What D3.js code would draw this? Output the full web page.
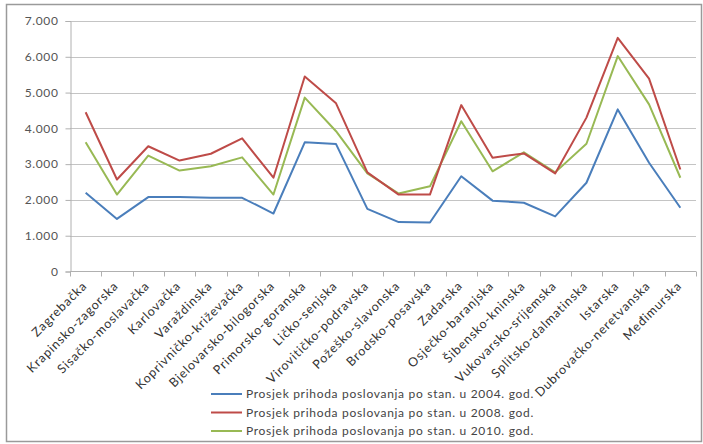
<!DOCTYPE html>
<html>
<head>
<meta charset="utf-8">
<script src="https://cdn.jsdelivr.net/npm/d3@7"></script>
<style>
  html, body { margin: 0; padding: 0; background: #fff; }
  svg { display: block; }
  text { font-family: Lato, "Open Sans", sans-serif; }
</style>
</head>
<body>
<svg id="chart" width="703" height="444"></svg>
<script>
// Counties of Croatia
const counties = [
  "Zagrebačka", "Krapinsko-zagorska", "Sisačko-moslavačka", "Karlovačka",
  "Varaždinska", "Koprivničko-križevačka", "Bjelovarsko-bilogorska",
  "Primorsko-goranska", "Ličko-senjska", "Virovitičko-podravska",
  "Požeško-slavonska", "Brodsko-posavska", "Zadarska", "Osječko-baranjska",
  "Šibensko-kninska", "Vukovarsko-srijemska", "Splitsko-dalmatinska",
  "Istarska", "Dubrovačko-neretvanska", "Međimurska"
];

// Average business revenue per inhabitant
const values2004 = [2200, 1470, 2080, 2080, 2060, 2060, 1620, 3610, 3560, 1750,
                    1380, 1370, 2660, 1980, 1920, 1540, 2480, 4530, 3040, 1780];
const values2008 = [4450, 2570, 3500, 3100, 3290, 3720, 2620, 5450, 4700, 2770,
                    2150, 2150, 4650, 3180, 3300, 2740, 4300, 6530, 5390, 2850];
const values2010 = [3610, 2150, 3240, 2820, 2940, 3190, 2150, 4860, 3920, 2740,
                    2180, 2380, 4200, 2800, 3330, 2770, 3570, 6020, 4670, 2620];

const seriesNames = [
  "Prosjek prihoda poslovanja po stan. u 2004. god.",
  "Prosjek prihoda poslovanja po stan. u 2008. god.",
  "Prosjek prihoda poslovanja po stan. u 2010. god."
];
const seriesColors = ["#4a7ebb", "#be4b48", "#98b954"];
const yTicks = [0, 1000, 2000, 3000, 4000, 5000, 6000, 7000];

const series = [values2004, values2008, values2010].map((vals, i) => ({
  name: seriesNames[i], color: seriesColors[i], values: vals
}));

const svg = d3.select("#chart");

// Outer chart frame
svg.append("rect")
  .attr("x", 6.5).attr("y", 4.5)
  .attr("width", 695).attr("height", 437)
  .attr("fill", "#fff").attr("stroke", "#9a9a9a").attr("stroke-width", 1.5);

const plot = { left: 70, right: 696, top: 21, bottom: 271.5 };

const x = d3.scaleBand().domain(counties).range([plot.left, plot.right]);
const y = d3.scaleLinear().domain([0, 7000]).range([plot.bottom, plot.top]);

const fmt = v => d3.format(",")(v).replace(/,/g, ".");

// Gridlines
svg.append("g")
  .selectAll("line")
  .data(yTicks.filter(d => d > 0))
  .join("line")
  .attr("x1", plot.left).attr("x2", plot.right)
  .attr("y1", d => Math.round(y(d)) + 0.5).attr("y2", d => Math.round(y(d)) + 0.5)
  .attr("stroke", "#c4c4c4").attr("stroke-width", 1.2);

// Y axis
const yAxis = svg.append("g")
  .attr("transform", `translate(${plot.left + 0.5},0)`)
  .call(d3.axisLeft(y).tickValues(yTicks).tickFormat(fmt).tickSize(5).tickPadding(7));
yAxis.select(".domain").attr("stroke", "#b0b0b0");
yAxis.selectAll(".tick line").attr("stroke", "#b0b0b0");
yAxis.selectAll(".tick text")
  .attr("fill", "#555").style("font-size", "12px").style("letter-spacing", "0.6px");

// X axis with ticks on band boundaries
const xAxis = svg.append("g")
  .attr("transform", `translate(0,${plot.bottom})`);
xAxis.append("line")
  .attr("x1", plot.left).attr("x2", plot.right)
  .attr("stroke", "#b0b0b0").attr("stroke-width", 1.2);
xAxis.selectAll("line.tick")
  .data(counties.concat([null]))
  .join("line")
  .attr("class", "tick")
  .attr("x1", (d, i) => Math.round(plot.left + i * x.step()) + 0.5)
  .attr("x2", (d, i) => Math.round(plot.left + i * x.step()) + 0.5)
  .attr("y1", 0).attr("y2", 5)
  .attr("stroke", "#b0b0b0");
xAxis.selectAll("text")
  .data(counties)
  .join("text")
  .attr("transform", d => `translate(${x(d) + x.bandwidth() / 2 - 1},${12}) rotate(-45)`)
  .attr("text-anchor", "end")
  .attr("dy", "0.35em")
  .attr("fill", "#333")
  .style("font-size", "12.5px")
  .style("letter-spacing", "0.9px")
  .text(d => d);

// Lines
const line = d3.line()
  .x((d, i) => x(counties[i]) + x.bandwidth() / 2)
  .y(d => y(d));

svg.append("g")
  .selectAll("path")
  .data([series[0], series[2], series[1]])
  .join("path")
  .attr("d", d => line(d.values))
  .attr("fill", "none")
  .attr("stroke", d => d.color)
  .attr("stroke-width", 2)
  .attr("stroke-linejoin", "round");

// Legend
const legend = svg.append("g");
const rows = legend.selectAll("g")
  .data(series)
  .join("g")
  .attr("transform", (d, i) => `translate(211,${394 + i * 18.5})`);
rows.append("line")
  .attr("x1", 0).attr("x2", 31)
  .attr("stroke", d => d.color).attr("stroke-width", 2);
rows.append("text")
  .attr("x", 35).attr("dy", "0.35em")
  .attr("fill", "#444")
  .style("font-size", "12px")
  .style("letter-spacing", "0.7px")
  .text(d => d.name);
</script>
</body>
</html>
